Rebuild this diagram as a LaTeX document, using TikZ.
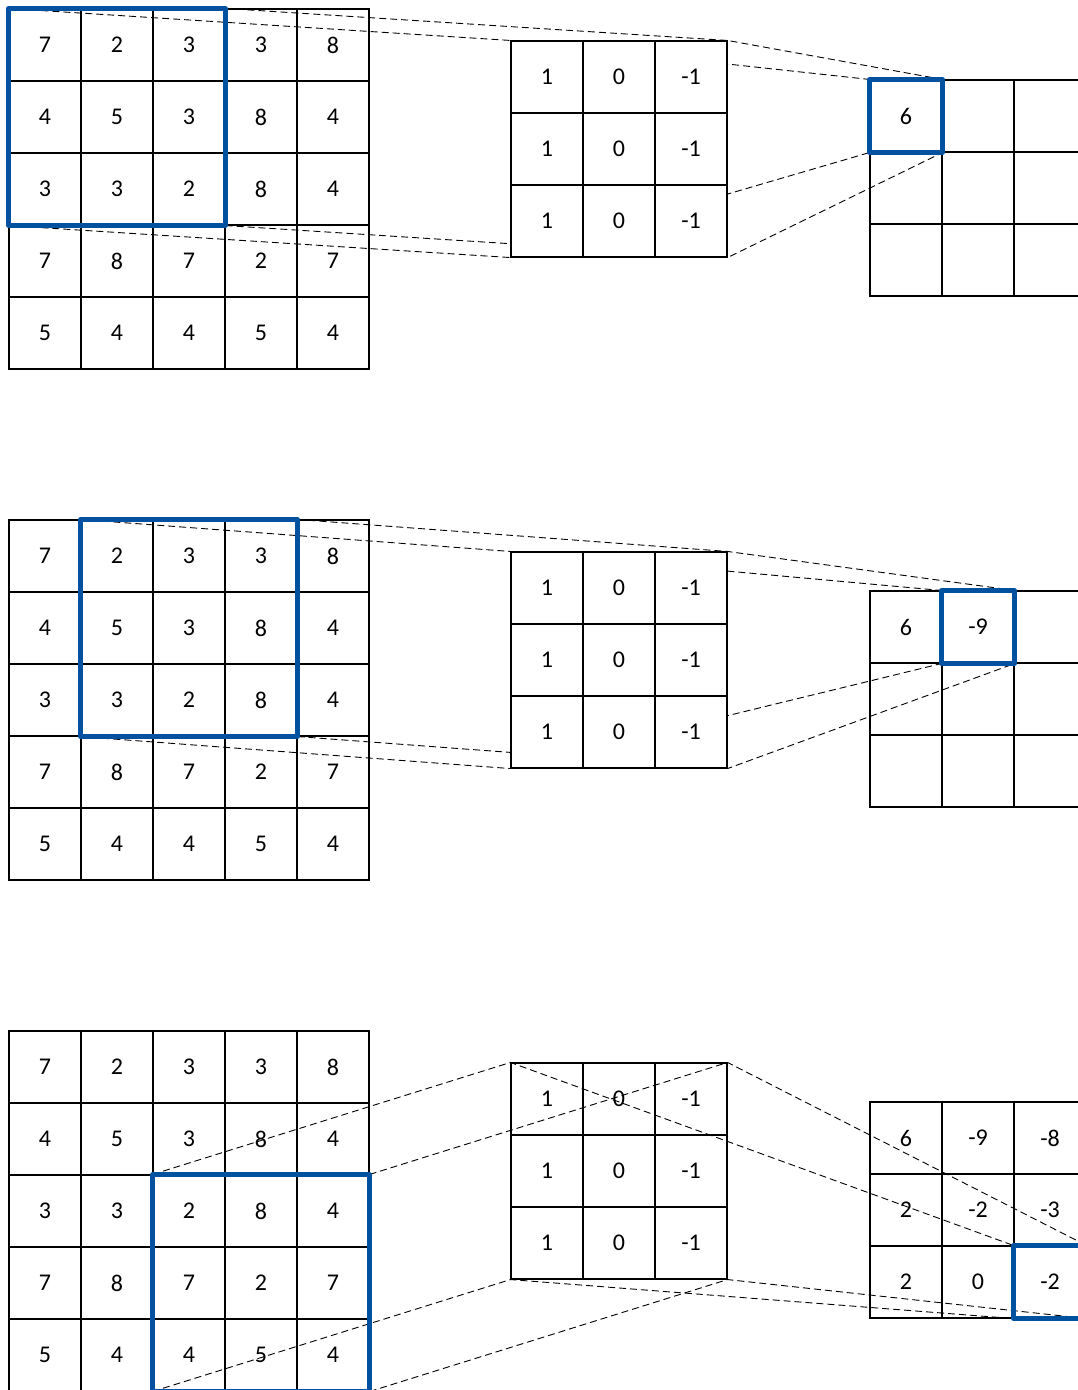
\documentclass[tikz,border=0pt]{standalone}
\usepackage{fontspec}
\setmainfont{Carlito}
\pgfdeclarelayer{bg}
\pgfsetlayers{bg,main}
\definecolor{winblue}{RGB}{0,82,160}
\tikzset{
  cell/.style={draw, minimum size=72pt, inner sep=0pt, line width=1.1pt,
    font=\fontsize{24}{28}\selectfont},
  window/.style={draw=winblue, line width=4.5pt, line join=round},
  proj/.style={line width=0.9pt, dash pattern=on 7pt off 4pt},
}
\begin{document}
\begin{tikzpicture}[x=1pt, y=-1pt]
\useasboundingbox (0,0) rectangle (1078,1390);
\clip (0,0) rectangle (1078,1390);
% input image and kernel, once per step
\foreach \p/\dy/\kfill in {1/0/white, 2/511/white, 3/1022/none}
{
	\foreach \row [count=\r from 0] in {{7,2,3,3,8},{4,5,3,8,4},{3,3,2,8,4},{7,8,7,2,7},{5,4,4,5,4}}
		\foreach \v [count=\c from 0] in \row
			\node[cell] (i\p-\r-\c) at ({45+72*\c},{\dy+45+72*\r}) {\v};
	\foreach \r in {0,1,2}
		\foreach \v [count=\c from 0] in {1,0,-1}
			\node[cell, fill=\kfill] (k\p-\r-\c) at ({547+72*\c},{\dy+77+72*\r}) {\v};
}
% feature maps
\foreach \row [count=\r from 0] in {{6,{},{}},{{},{},{}},{{},{},{}}}
	\foreach \v [count=\c from 0] in \row
		\node[cell] (o1-\r-\c) at ({906+72*\c},{116+72*\r}) {\v};
\foreach \row [count=\r from 0] in {{6,-9,{}},{{},{},{}},{{},{},{}}}
	\foreach \v [count=\c from 0] in \row
		\node[cell] (o2-\r-\c) at ({906+72*\c},{627+72*\r}) {\v};
\foreach \row [count=\r from 0] in {{6,-9,-8},{2,-2,-3},{2,0,-2}}
	\foreach \v [count=\c from 0] in \row
		\node[cell] (o3-\r-\c) at ({906+72*\c},{1138+72*\r}) {\v};
% window, projection lines, result cell
\foreach \p/\a/\b in {1/0/0, 2/0/1, 3/2/2}
{
	\pgfmathtruncatemacro\ea{\a+2}
	\pgfmathtruncatemacro\eb{\b+2}
	\begin{pgfonlayer}{bg}
		\draw[proj] (i\p-\a-\b.north west) -- (k\p-0-0.north west) -- (o\p-\a-\b.north west);
		\draw[proj] (i\p-\a-\eb.north east) -- (k\p-0-2.north east) -- (o\p-\a-\b.north east);
		\draw[proj] (i\p-\ea-\b.south west) -- (k\p-2-0.south west) -- (o\p-\a-\b.south west);
		\draw[proj] (i\p-\ea-\eb.south east) -- (k\p-2-2.south east) -- (o\p-\a-\b.south east);
	\end{pgfonlayer}
	\draw[window] (i\p-\a-\b.north west) rectangle (i\p-\ea-\eb.south east);
	\draw[window] (o\p-\a-\b.north west) rectangle (o\p-\a-\b.south east);
}
\end{tikzpicture}
\end{document}
